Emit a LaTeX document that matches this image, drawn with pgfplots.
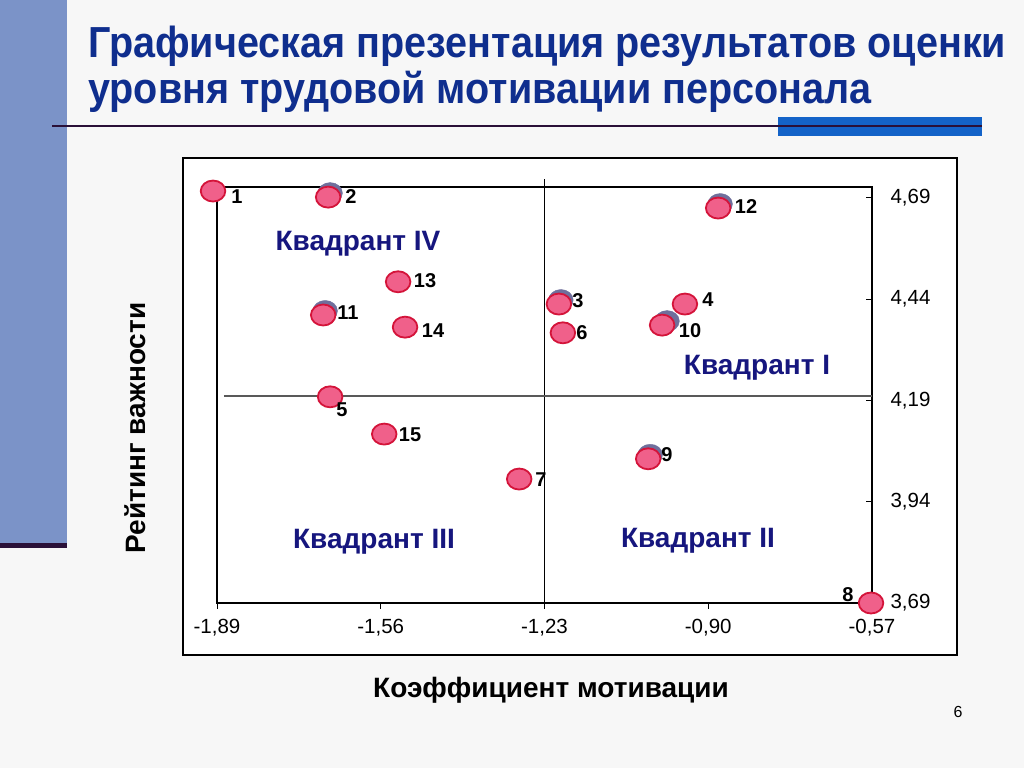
\documentclass[border=0pt]{standalone}
\usepackage{fontspec}
\setmainfont{Liberation Sans}
\usepackage{pgfplots}
\pgfplotsset{compat=1.18}
\definecolor{bg}{HTML}{F7F7F7}
\definecolor{barblue}{HTML}{7B93C8}
\definecolor{darkline}{HTML}{2A1038}
\definecolor{rectblue}{HTML}{1463C8}
\definecolor{titleblue}{HTML}{0F2E8E}
\definecolor{quadblue}{HTML}{16167E}
\definecolor{mfill}{HTML}{F0608A}
\definecolor{mdraw}{HTML}{D4143A}
\definecolor{shadowc}{HTML}{6F6F9C}
\newcommand{\lab}[3]{\node[font=\bfseries\fontsize{20}{20}\selectfont, inner sep=0pt] at (#1pt,#2pt) {#3};}
\begin{document}
\begin{tikzpicture}
\fill[bg] (0pt,0pt) rectangle (1024pt,768pt);
\fill[barblue] (0pt,223pt) rectangle (67pt,768pt);
\fill[darkline] (0pt,220pt) rectangle (67pt,225pt);
\fill[rectblue] (778pt,632pt) rectangle (982pt,651pt);
\draw[darkline, line width=2.5pt] (52pt,642pt) -- (982pt,642pt);
\node[anchor=base west, inner sep=0pt, text=titleblue, font=\bfseries\fontsize{41}{41}\selectfont] at (88pt,710pt) {\scalebox{0.965}[1.06]{Графическая презентация результатов оценки}};
\node[anchor=base west, inner sep=0pt, text=titleblue, font=\bfseries\fontsize{41}{41}\selectfont] at (88pt,664pt) {\scalebox{0.965}[1.06]{уровня трудовой мотивации персонала}};
\draw[black, line width=1.5pt, fill=white] (183pt,113pt) rectangle (957pt,610pt);
\begin{axis}[
  at={(217pt,165pt)}, anchor=south west,
  scale only axis, width=655pt, height=416pt,
  xmin=-1.89, xmax=-0.57, ymin=3.69, ymax=4.717,
  xtick={-1.89,-1.56,-1.23,-0.90,-0.57},
  ytick={3.69,3.94,4.19,4.44,4.69},
  xtick pos=bottom, ytick pos=right, yticklabel pos=right,
  tick align=outside, major tick length=6pt,
  y tick style={xshift=-6pt},
  tick style={black, line width=1pt},
  axis line style={black, line width=1.3pt},
  clip=false,
  /pgf/number format/.cd, fixed, fixed zerofill, precision=2, use comma, assume math mode=true,
  /pgfplots/.cd,
  ticklabel style={font=\fontsize{20.5}{20.5}\selectfont},
  yticklabel style={anchor=west, xshift=9pt},
  xticklabel style={yshift=-7pt},
]
\addplot[black, line width=1.3pt] coordinates {(-1.23,3.69) (-1.23,4.737)};
\addplot[black!65, line width=1.6pt] coordinates {(-1.876,4.201) (-0.57,4.201)};
\addplot[only marks, mark=*, mark size=10.5pt, mark options={xscale=1.17, fill=shadowc, draw=shadowc}] coordinates {
(-1.662,4.702) (-0.876,4.675) (-1.197,4.438) (-1.672,4.411) (-0.983,4.386) (-1.017,4.056)
};
\addplot[only marks, mark=*, mark size=10.5pt, mark options={xscale=1.17, fill=mfill, draw=mdraw, line width=1.8pt}] coordinates {
(-1.898,4.707) (-1.666,4.692) (-1.201,4.428) (-0.947,4.428) (-1.662,4.199)
(-1.193,4.357) (-1.281,3.996) (-0.572,3.69) (-1.021,4.046) (-0.993,4.376)
(-1.676,4.401) (-0.880,4.665) (-1.525,4.483) (-1.511,4.371) (-1.553,4.107)
};
\end{axis}
\lab{237}{571}{1}
\lab{351}{571}{2}
\lab{746}{561}{12}
\lab{425}{487}{13}
\lab{578}{467}{3}
\lab{708}{468}{4}
\lab{348}{455}{11}
\lab{433}{437}{14}
\lab{582}{435}{6}
\lab{690}{437}{10}
\lab{342}{358}{5}
\lab{410}{333}{15}
\lab{667}{313}{9}
\lab{541}{288}{7}
\lab{848}{173}{8}
\node[text=quadblue, font=\bfseries\fontsize{28}{28}\selectfont] at (358pt,524pt) {Квадрант IV};
\node[text=quadblue, font=\bfseries\fontsize{28}{28}\selectfont] at (757pt,400pt) {Квадрант I};
\node[text=quadblue, font=\bfseries\fontsize{28}{28}\selectfont] at (374pt,226pt) {Квадрант III};
\node[text=quadblue, font=\bfseries\fontsize{28}{28}\selectfont] at (698pt,227pt) {Квадрант II};
\node[font=\bfseries\fontsize{28}{28}\selectfont] at (551pt,78pt) {Коэффициент мотивации};
\node[font=\bfseries\fontsize{28}{28}\selectfont, rotate=90] at (135pt,340pt) {Рейтинг важности};
\node[font=\fontsize{16}{16}\selectfont] at (958pt,56pt) {6};
\end{tikzpicture}
\end{document}
